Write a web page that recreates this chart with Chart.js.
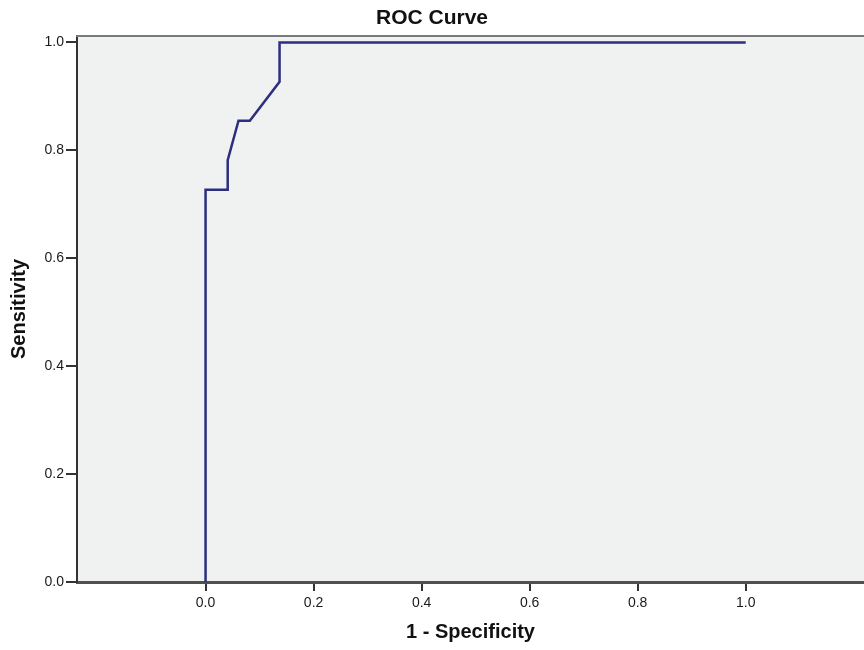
<!DOCTYPE html>
<html>
<head>
<meta charset="utf-8">
<script src="https://cdn.jsdelivr.net/npm/chart.js@4.4.1/dist/chart.umd.min.js"></script>
<style>
  html, body { margin: 0; padding: 0; background: #fff; }
  #wrap { width: 864px; height: 650px; }
</style>
</head>
<body>
<div id="wrap"><canvas id="roc"></canvas></div>
<script>
// ROC curve
const fpr = [0, 0, 0.041, 0.041, 0.061, 0.082, 0.137, 0.137, 1.0];
const tpr = [0, 0.727, 0.727, 0.782, 0.855, 0.855, 0.927, 1.0, 1.0];
const tickValues = [0, 0.2, 0.4, 0.6, 0.8, 1.0];

const points = fpr.map((x, i) => ({ x, y: tpr[i] }));

// grey plot background (under the axes) + top frame line
const plotFrame = {
  id: 'plotFrame',
  beforeDraw(chart) {
    const { ctx, chartArea: a } = chart;
    ctx.save();
    ctx.fillStyle = '#f0f1f1';
    ctx.fillRect(a.left, a.top, a.right - a.left, a.bottom - a.top);
    ctx.restore();
  },
  beforeDatasetsDraw(chart) {
    const { ctx, chartArea: a } = chart;
    ctx.save();
    ctx.strokeStyle = '#7a7a7a';
    ctx.lineWidth = 2;
    ctx.beginPath();
    ctx.moveTo(a.left - 1, a.top);
    ctx.lineTo(a.right, a.top);
    ctx.stroke();
    ctx.restore();
  }
};

const fixedTicks = scale => {
  scale.ticks = tickValues.map(v => ({ value: v }));
};

new Chart(document.getElementById('roc'), {
  type: 'scatter',
  data: {
    datasets: [{
      data: points,
      showLine: true,
      borderColor: '#2c2e7e',
      borderWidth: 2.5,
      pointRadius: 0,
      tension: 0,
      fill: false
    }]
  },
  options: {
    responsive: true,
    maintainAspectRatio: false,
    animation: false,
    layout: { padding: 0 },
    plugins: {
      legend: { display: false },
      tooltip: { enabled: false },
      title: {
        display: true,
        text: 'ROC Curve',
        color: '#111',
        font: { family: 'Liberation Sans, Arial, sans-serif', size: 21, weight: 'bold', lineHeight: 1.2 },
        padding: { top: 6, bottom: 4.8 }
      }
    },
    scales: {
      x: {
        type: 'linear',
        min: -0.238,
        max: 1.219,
        afterBuildTicks: fixedTicks,
        afterFit: s => { s.height = 68; },
        grid: { display: true, drawOnChartArea: false, drawTicks: true, tickLength: 9, color: '#333', lineWidth: 2 },
        border: { display: true, color: '#505050', width: 3 },
        ticks: {
          padding: 4,
          color: '#1a1a1a',
          font: { family: 'Liberation Sans, Arial, sans-serif', size: 14 },
          callback: v => Number(v).toFixed(1)
        },
        title: {
          display: true,
          text: '1 - Specificity',
          color: '#111',
          font: { family: 'Liberation Sans, Arial, sans-serif', size: 20, weight: 'bold', lineHeight: 1.2 },
          padding: { top: 0, bottom: 5.5 }
        }
      },
      y: {
        type: 'linear',
        min: 0,
        max: 1.012,
        afterBuildTicks: fixedTicks,
        afterFit: s => { s.width = 77; },
        grid: { display: true, drawOnChartArea: false, drawTicks: true, tickLength: 11, color: '#333', lineWidth: 2 },
        border: { display: true, color: '#333', width: 2 },
        ticks: {
          padding: 2,
          color: '#1a1a1a',
          font: { family: 'Liberation Sans, Arial, sans-serif', size: 14 },
          callback: v => Number(v).toFixed(1)
        },
        title: {
          display: true,
          text: 'Sensitivity',
          color: '#111',
          font: { family: 'Liberation Sans, Arial, sans-serif', size: 20, weight: 'bold', lineHeight: 1.2 },
          padding: { top: 7, bottom: 0 }
        }
      }
    }
  },
  plugins: [plotFrame]
});
</script>
</body>
</html>
